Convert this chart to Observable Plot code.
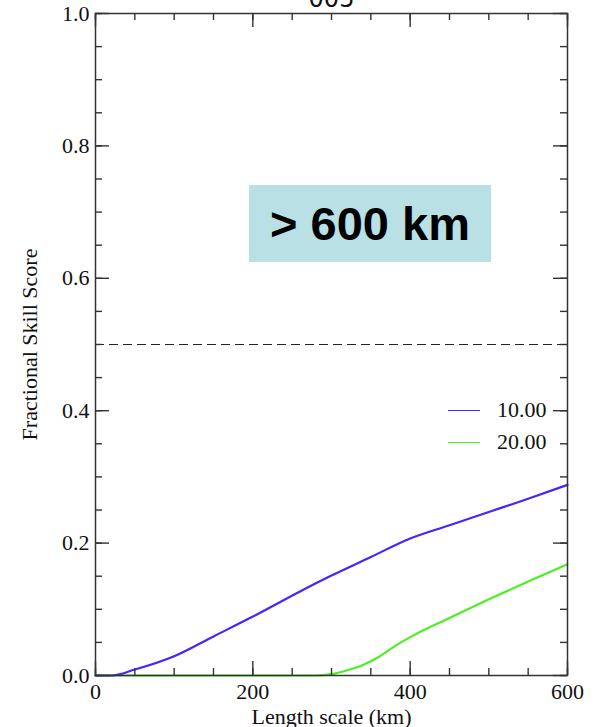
<!DOCTYPE html>
<html>
<head>
<meta charset="utf-8">
<script src="https://cdn.jsdelivr.net/npm/d3@7"></script>
<script src="https://cdn.jsdelivr.net/npm/@observablehq/plot@0.6"></script>
<style>
  html, body { margin: 0; padding: 0; background: #fff; }
  #wrap { position: relative; width: 598px; height: 727px; overflow: hidden; }
  .ann { position: absolute; }
  #box { left: 249px; top: 185px; width: 242px; height: 77px; background: #b9e0e4;
         font-family: "Liberation Sans", Arial, sans-serif; font-weight: bold; font-size: 47px;
         display: flex; align-items: center; justify-content: center; color: #000; }
  .leg { position: absolute; display: flex; align-items: center; font-family: "Liberation Serif", "Times New Roman", serif; font-size: 22px; color: #111; }
  .leg span.sw { display: inline-block; width: 32px; height: 0; border-top: 1.5px solid; margin-right: 17px; }
</style>
</head>
<body>
<div id="wrap"></div>
<script>
const title = "005";
const xLabel = "Length scale (km)";
const yLabel = "Fractional Skill Score";
const annotation = "> 600 km";
const seriesNames = ["10.00", "20.00"];
const seriesColors = ["#4a22ff", "#4cf020"];

const blueX = [0, 20, 50, 100, 150, 200, 260, 300, 350, 400, 450, 500, 550, 600];
const blueY = [0, 0, 0.009, 0.029, 0.059, 0.089, 0.127, 0.151, 0.179, 0.207, 0.227, 0.247, 0.267, 0.288];
const greenX = [0, 280, 300, 320, 340, 360, 380, 400, 450, 500, 550, 600];
const greenY = [0, 0, 0.002, 0.008, 0.016, 0.028, 0.044, 0.058, 0.087, 0.115, 0.142, 0.168];

const xMajor = [0, 200, 400, 600];
const xMinor = d3.range(0, 601, 50);
const yMajor = [0, 0.2, 0.4, 0.6, 0.8, 1.0];
const yMinor = d3.range(0, 1.0001, 0.05);
const threshold = [0.5];

const blue = blueX.map((x, i) => ({x, y: blueY[i]}));
const green = greenX.map((x, i) => ({x, y: greenY[i]}));

const W = 598, H = 727;
const mL = 95, mR = 31, mT = 13, mB = 52;
const pW = W - mL - mR, pH = H - mT - mB;
const axisColor = "#333";
const serif = "Liberation Serif, Times New Roman, serif";

const chart = Plot.plot({
  width: W, height: H,
  marginLeft: mL, marginRight: mR, marginTop: mT, marginBottom: mB,
  style: {fontFamily: serif, fontSize: "22px", color: "#111", background: "transparent"},
  x: {domain: [0, 600]},
  y: {domain: [0, 1]},
  marks: [
    Plot.ruleY(threshold, {stroke: "#222", strokeWidth: 1.2, strokeDasharray: "9,5"}),
    Plot.line(green, {x: "x", y: "y", stroke: seriesColors[1], strokeWidth: 2.2, curve: "monotone-x"}),
    Plot.line(blue, {x: "x", y: "y", stroke: seriesColors[0], strokeWidth: 2.2, curve: "monotone-x"}),
    Plot.ruleX(xMinor, {x: d => d, insetTop: pH - 7, stroke: axisColor, strokeWidth: 1.4}),
    Plot.ruleX(xMinor, {x: d => d, insetBottom: pH - 7, stroke: axisColor, strokeWidth: 1.4}),
    Plot.ruleX(xMajor, {x: d => d, insetTop: pH - 14, stroke: axisColor, strokeWidth: 1.4}),
    Plot.ruleX(xMajor, {x: d => d, insetBottom: pH - 14, stroke: axisColor, strokeWidth: 1.4}),
    Plot.ruleY(yMinor, {y: d => d, insetRight: pW - 7, stroke: axisColor, strokeWidth: 1.4}),
    Plot.ruleY(yMinor, {y: d => d, insetLeft: pW - 7, stroke: axisColor, strokeWidth: 1.4}),
    Plot.ruleY(yMajor, {y: d => d, insetRight: pW - 14, stroke: axisColor, strokeWidth: 1.4}),
    Plot.ruleY(yMajor, {y: d => d, insetLeft: pW - 14, stroke: axisColor, strokeWidth: 1.4}),
    Plot.frame({stroke: axisColor, strokeWidth: 1.5}),
    Plot.axisX({ticks: xMajor, tickSize: 0, tickPadding: 8, tickFormat: d => String(d),
                label: xLabel, labelAnchor: "center", labelArrow: "none", labelOffset: 48, fontSize: 22}),
    Plot.axisY({ticks: yMajor, tickSize: 0, tickPadding: 6, tickFormat: d3.format(".1f"),
                label: yLabel, labelAnchor: "center", labelArrow: "none", labelOffset: 74, fontSize: 22}),
    Plot.text([title], {text: d => d, frameAnchor: "top", lineAnchor: "bottom", dy: -7, fontSize: 24, fontFamily: "DejaVu Sans, sans-serif"})
  ]
});

const wrap = document.getElementById("wrap");
wrap.appendChild(chart);

const box = document.createElement("div");
box.id = "box"; box.className = "ann"; box.textContent = annotation;
wrap.appendChild(box);

const legTops = [410, 442];
seriesNames.forEach((name, i) => {
  const d = document.createElement("div");
  d.className = "leg";
  d.style.left = "448px";
  d.style.top = (legTops[i] - 12) + "px";
  d.style.height = "24px";
  const sw = document.createElement("span");
  sw.className = "sw"; sw.style.borderTopColor = seriesColors[i];
  d.appendChild(sw);
  d.appendChild(document.createTextNode(name));
  wrap.appendChild(d);
});
</script>
</body>
</html>
